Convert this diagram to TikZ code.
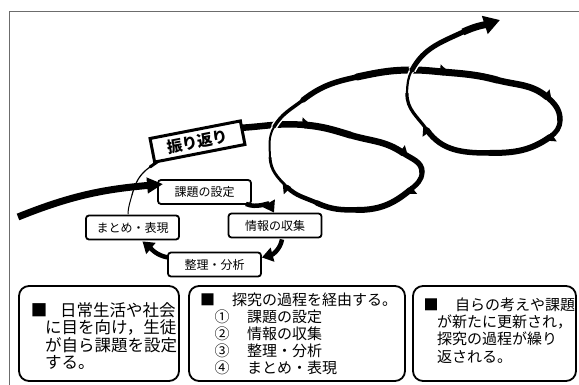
\documentclass[tikz,border=0pt]{standalone}
\usepackage{fontspec}
\setmainfont{Noto Sans CJK JP}
\usetikzlibrary{arrows.meta}
\begin{document}
\begin{tikzpicture}[x=1pt,y=1pt,
  cyc/.style={draw, line width=1.8pt, rounded corners=3pt, fill=white, minimum width=93pt, minimum height=24pt, inner sep=0pt, font=\fontsize{12}{12}\selectfont},
  bigbox/.style={draw, line width=1.8pt, rounded corners=10pt, fill=white, minimum height=95pt, inner sep=0pt},
  ln/.style={anchor=west, inner sep=0pt},
  sq/.style={inner sep=0pt},
  sp/.style={line cap=round, line join=round},
  cas/.style={white, line cap=butt},
  carrow/.style={line width=4.5pt, -{Triangle[length=11pt,width=14pt]}},
  mk/.pic={\fill (5,1) -- (-3,-3) -- (-3,7.5) -- cycle;}
]
\useasboundingbox (0,0) rectangle (579,-385);
\fill[white] (0,0) rectangle (579,-385);
% frame
\coordinate (fa) at (9,-385);
\coordinate (fb) at (9,-12);
\coordinate (fc) at (579,-12);
\draw[gray!85!black, line width=1pt] (fa) -- (fb) -- (fc);

% spiral coordinates
\coordinate (S0) at (128,-214);
\coordinate (S1) at (132,-195);
\coordinate (S2) at (150,-167);
\coordinate (S3) at (238,-128);
\coordinate (A2) at (305,-125);
\coordinate (A3) at (350,-135);
\coordinate (A4) at (403,-153);
\coordinate (A5) at (422,-172);
\coordinate (A6) at (410,-190);
\coordinate (A7) at (357,-210);
\coordinate (A8) at (317,-203);
\coordinate (A9) at (287,-187);
\coordinate (A10) at (270,-157);
\coordinate (A11) at (274,-127);
\coordinate (A12) at (303,-100);
\coordinate (A13) at (357,-77);
\coordinate (A14) at (412,-70);
\coordinate (B1) at (443,-72);
\coordinate (B2) at (497,-80);
\coordinate (B3) at (547,-97);
\coordinate (B4) at (560,-120);
\coordinate (B5) at (550,-137);
\coordinate (B6) at (490,-153);
\coordinate (B7) at (427,-130);
\coordinate (B8) at (407,-93);
\coordinate (B9) at (412,-70);
\coordinate (B10) at (463,-32);
\coordinate (B11) at (500,-20);

% spiral
\draw[sp, line width=1pt] (S0) to[out=88,in=255] (S1);
\draw[sp, line width=1.2pt] (S1) to[out=75,in=215] (S2);
\draw[sp, line width=3pt] (S2) to[out=35,in=183] (S3);
\draw[sp, line width=6.5pt] (S3) to[out=3,in=175] (A2);
\draw[sp, line width=7pt] (A2) to[out=-5,in=163] (A3);
\draw[sp, line width=6.5pt] (A3) to[out=-17,in=145] (A4);
\draw[sp, line width=5.5pt] (A4) to[out=-35,in=90] (A5);
\draw[sp, line width=5pt] (A5) to[out=-90,in=40] (A6);
\draw[sp, line width=6pt] (A6) to[out=-140,in=0] (A7);
\draw[sp, line width=5.5pt] (A7) to[out=180,in=-25] (A8);
\draw[sp, line width=4.5pt] (A8) to[out=155,in=-45] (A9);
\draw[sp, line width=2.8pt] (A9) to[out=135,in=-88] (A10);
\draw[cas, line width=5pt] (A10) to[out=92,in=-120] (A11);
\draw[sp, line width=2pt] (A10) to[out=92,in=-120] (A11);
\draw[cas, line width=6.5pt] (A11) to[out=60,in=-142] (A12);
\draw[sp, line width=3.5pt] (A11) to[out=60,in=-142] (A12);
\draw[sp, line width=5.5pt] (A12) to[out=38,in=-168] (A13);
\draw[sp, line width=7pt] (A13) to[out=12,in=180] (A14);
\draw[sp, line width=7pt] (A14) to[out=0,in=175] (B1);
\draw[sp, line width=7pt] (B1) to[out=-5,in=165] (B2);
\draw[sp, line width=6.5pt] (B2) to[out=-15,in=140] (B3);
\draw[sp, line width=5.5pt] (B3) to[out=-40,in=90] (B4);
\draw[sp, line width=5pt] (B4) to[out=-90,in=35] (B5);
\draw[sp, line width=6pt] (B5) to[out=-145,in=0] (B6);
\draw[sp, line width=5.5pt] (B6) to[out=180,in=-55] (B7);
\draw[sp, line width=3.2pt] (B7) to[out=125,in=-92] (B8);
\draw[cas, line width=5.2pt] (B8) to[out=88,in=-118] (B9);
\draw[sp, line width=2.2pt] (B8) to[out=88,in=-118] (B9);
\draw[cas, line width=8pt] (B9) to[out=62,in=-155] (B10);
\draw[sp, line width=5pt] (B9) to[out=62,in=-155] (B10);
\draw[line width=7pt, line cap=butt, -{Triangle[length=16pt,width=18pt]}] (B10) to[out=25,in=-162] (B11);

% markers
\pic[rotate=-5] at (A2) {mk};
\pic[rotate=-35] at (A4) {mk};
\pic[rotate=-140] at (A6) {mk};
\pic[rotate=135] at (A9) {mk};
\pic[rotate=-5] at (B1) {mk};
\pic[rotate=-40] at (B3) {mk};
\pic[rotate=-145] at (B5) {mk};
\pic[rotate=125] at (B7) {mk};

% reflection label
\node[draw, line width=3pt, fill=white, rotate=11, minimum width=92pt, minimum height=24pt, inner sep=0pt, font=\bfseries\fontsize{15.5}{15.5}\selectfont] (furi) at (197.5,-141.5) {振り返り};

% cycle boxes
\node[cyc] (kadai) at (204.5,-192) {課題の設定};
\node[cyc] (matome) at (132.5,-227.5) {まとめ・表現};
\node[cyc] (joho) at (275,-225.5) {情報の収集};
\node[cyc] (seiri) at (214.5,-264.5) {整理・分析};

% cycle arrows
\draw[carrow] ([xshift=-6pt,yshift=1pt]kadai.south east) to[out=-25,in=120] ([xshift=-1pt]joho.north);
\draw[carrow] ([xshift=7pt,yshift=-1pt]joho.south) to[out=-100,in=15] ([yshift=7pt]seiri.east);
\draw[carrow] ([yshift=7pt,xshift=1pt]seiri.west) to[out=170,in=-40] ([xshift=10pt,yshift=-1pt]matome.south);

% incoming arrow
\coordinate (bigtail) at (18,-217);
\draw[line width=7pt, -{Triangle[length=16pt,width=15pt]}] (bigtail) to[out=22,in=185] ([xshift=6pt,yshift=-5pt]kadai.north west);

% bottom boxes
\node[bigbox, minimum width=160pt] (box1) at (99,-333.5) {};
\node[bigbox, minimum width=216pt] (box2) at (297,-333.5) {};
\node[bigbox, minimum width=163pt] (box3) at (494.5,-333.5) {};

% box 1 text
\begin{scope}[font=\fontsize{16.5}{17}\selectfont]
\node[sq] (q1) at (39,-310) {■};
\node[ln] (t1a) at (60,-310) {日常生活や社会};
\node[ln] (t1b) at (45,-327) {に目を向け，生徒};
\node[ln] (t1c) at (45,-345) {が自ら課題を設定};
\node[ln] (t1d) at (45,-362) {する。};
\end{scope}

% box 2 text
\begin{scope}[font=\fontsize{15}{17}\selectfont]
\node[sq] (q2) at (207.5,-300) {■};
\node[ln] (t2a) at (232,-300) {探究の過程を経由する。};
\node[sq] (n1) at (222,-317) {①};
\node[ln] (t2b) at (247,-317) {課題の設定};
\node[sq] (n2) at (222,-334) {②};
\node[ln] (t2c) at (247,-334) {情報の収集};
\node[sq] (n3) at (222,-351) {③};
\node[ln] (t2d) at (247,-351) {整理・分析};
\node[sq] (n4) at (222,-368) {④};
\node[ln] (t2e) at (247,-368) {まとめ・表現};
\end{scope}

% box 3 text
\begin{scope}[font=\fontsize{15}{17}\selectfont]
\node[sq] (q3) at (431,-305) {■};
\node[ln] (t3a) at (455,-305) {自らの考えや課題};
\node[ln] (t3b) at (437,-322) {が新たに更新され，};
\node[ln] (t3c) at (437,-339) {探究の過程が繰り};
\node[ln] (t3d) at (437,-357) {返される。};
\end{scope}
\end{tikzpicture}
\end{document}
